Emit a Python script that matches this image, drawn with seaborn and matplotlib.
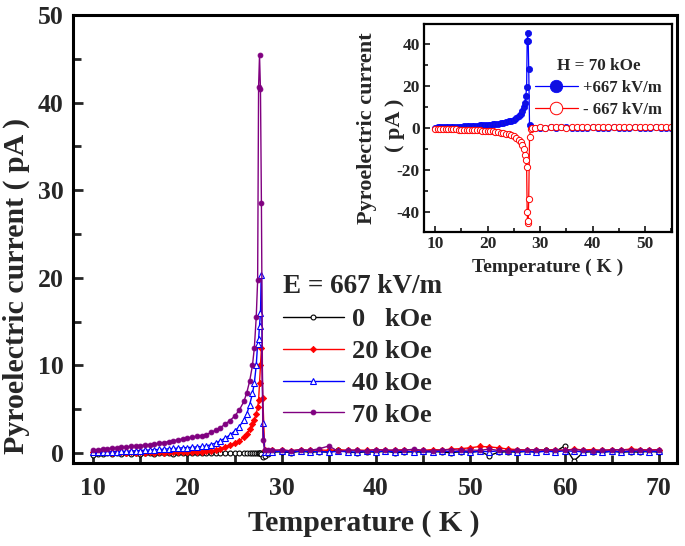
import numpy as np
import pandas as pd
import matplotlib
matplotlib.use("Agg")
import matplotlib.pyplot as plt
import seaborn as sns
from matplotlib.ticker import MultipleLocator

# ---------------- data ----------------
temperature = [10, 10.5, 11, 11.5, 12, 12.5, 13, 13.5, 14, 14.5, 15, 15.5, 16, 16.5,
               17, 17.5, 18, 18.5, 19, 19.5, 20, 20.5, 21, 21.5, 22, 22.5, 23, 23.5,
               24, 24.5, 25, 25.5, 26,
               26.3, 26.6, 26.9, 27.1, 27.3, 27.45, 27.55, 27.65, 27.75, 27.85, 28.0, 28.2, 28.5,
               29, 30, 31, 32, 33, 34, 35, 36, 37, 38, 39, 40, 41, 42, 43, 44, 45, 46,
               47, 48, 49, 50, 51, 52, 53, 54, 55, 56, 57, 58, 59, 60, 61, 62, 63, 64,
               65, 66, 67, 68, 69, 70]

i_0koe = [-0.2, -0.1, -0.15, 0.0, -0.1, -0.05, -0.15, 0.0, -0.1, -0.05, -0.1, 0.0, -0.05, -0.1,
          0.0, -0.05, 0.05, -0.1, 0.0, -0.05, 0.05, 0.0, -0.05, 0.05, 0.0, 0.05, -0.05, 0.05,
          0.0, 0.05, 0.0, 0.05, 0.0,
          0.05, 0.0, 0.05, 0.0, 0.05, 0.0, 0.05, 0.0, 0.05, -0.1, -0.5, -0.3, -0.1,
          0.1, 0.15, 0.05, 0.2, 0.1, 0.15, 0.1, 0.4, 0.1, 0.05, 0.15, 0.1, 0.2, 0.05,
          0.1, 0.15, 0.1, 0.2, 0.1, 0.05, 0.15, 0.1, 0.2, -0.3, 0.1, 0.15, 0.1, 0.2,
          0.1, 0.3, 0.15, 0.8, -0.9, 0.1, 0.15, 0.1, 0.2, 0.1, 0.15, 0.1, 0.2, 0.1]

i_20koe = [0.15, 0.1, 0.2, 0.1, 0.05, 0.1, 0.15, 0.05, 0.1, 0.05, 0.1, 0.05, 0.1, 0.05,
           0.1, 0.05, 0.1, 0.08, 0.1, 0.1, 0.12, 0.12, 0.15, 0.15, 0.18, 0.25, 0.35, 0.5,
           0.7, 0.9, 1.1, 1.4, 1.8,
           2.2, 2.7, 3.3, 3.8, 4.5, 5.2, 6.0, 8.0, 10.0, 12.0, 6.3, 0.3, 0.2,
           0.3, 0.35, 0.25, 0.4, 0.3, 0.35, 0.3, 0.4, 0.3, 0.35, 0.3, 0.4, 0.35, 0.3,
           0.4, 0.35, 0.3, 0.4, 0.35, 0.45, 0.5, 0.6, 0.75, 0.7, 0.6, 0.45, 0.4, 0.35,
           0.4, 0.35, 0.4, 0.3, 0.45, 0.35, 0.4, 0.3, 0.4, 0.35, 0.45, 0.4, 0.35, 0.4]

i_40koe = [0.10, 0.11, 0.12, 0.13, 0.15, 0.17, 0.19, 0.21, 0.23, 0.26, 0.29, 0.32, 0.35, 0.38,
           0.41, 0.44, 0.48, 0.52, 0.56, 0.60, 0.62, 0.66, 0.70, 0.75, 0.80, 0.95, 1.15, 1.40,
           1.70, 2.05, 2.50, 3.00, 3.80,
           4.5, 5.5, 6.8, 8.0, 10.0, 12.5, 13.0, 14.5, 16.0, 20.3, 3.4, 0.1, 0.1,
           0.15, 0.2, 0.1, 0.25, 0.15, 0.2, 0.1, 0.2, 0.15, 0.1, 0.2, 0.15, 0.25, 0.1,
           0.2, 0.15, 0.2, 0.1, 0.25, 0.15, 0.2, 0.1, 0.2, 0.15, 0.25, 0.2, 0.15, 0.2,
           0.1, 0.2, 0.15, 0.25, 0.2, 0.15, 0.2, 0.1, 0.2, 0.15, 0.2, 0.25, 0.15, 0.2]

i_70koe = [0.35, 0.40, 0.45, 0.50, 0.55, 0.60, 0.65, 0.70, 0.75, 0.80, 0.85, 0.90, 0.95, 1.00,
           1.10, 1.20, 1.30, 1.40, 1.50, 1.60, 1.70, 1.80, 1.90, 2.00, 2.10, 2.35, 2.60, 2.90,
           3.30, 3.70, 4.20, 4.90, 5.90,
           6.9, 8.2, 10.0, 12.0, 15.5, 19.7, 41.8, 45.4, 41.5, 28.5, 1.5, 0.4, 0.3,
           0.3, 0.35, 0.25, 0.4, 0.3, 0.5, 0.8, 0.2, 0.35, 0.3, 0.25, 0.4, 0.3, 0.35,
           0.3, 0.45, 0.3, 0.25, 0.35, 0.4, 0.3, 0.35, 0.3, 0.45, 0.3, 0.25, 0.35, 0.3,
           0.4, 0.3, 0.35, 0.3, 0.4, 0.3, 0.25, 0.35, 0.3, 0.4, 0.3, 0.35, 0.3, 0.35]

# inset: H = 70 kOe, +667 kV/m is the 70 kOe curve above; -667 kV/m below
i_neg667 = [-0.30, -0.32, -0.35, -0.38, -0.40, -0.43, -0.46, -0.50, -0.53, -0.57, -0.60, -0.65, -0.70, -0.75,
            -0.80, -0.86, -0.92, -0.98, -1.05, -1.12, -1.20, -1.30, -1.40, -1.55, -1.80, -2.00, -2.30, -2.55,
            -2.80, -3.20, -3.60, -4.40, -5.50,
            -6.5, -8.0, -10.0, -12.5, -15.2, -18.4, -40.0, -45.0, -44.0, -33.5, -4.3, -0.5, 0.0,
            0.3, 0.5, 0.3, 0.6, 0.4, 0.5, 0.3, 0.6, 0.5, 0.4, 0.6, 0.5, 0.4, 0.6,
            0.5, 0.7, 0.5, 0.6, 0.5, 0.6, 0.4, 0.6, 0.5, 0.6, 0.5, 0.6, 0.4, 0.6,
            0.5, 0.6, 0.5, 0.6, 0.5, 0.6, 0.5, 0.6, 0.5, 0.6, 0.5, 0.6, 0.5, 0.6]

main_labels = ["0   kOe", "20 kOe", "40 kOe", "70 kOe"]
inset_labels = ["+667 kV/m", "- 667 kV/m"]
main_title = "E = 667 kV/m"
inset_title = "H = 70 kOe"

# ---------------- style ----------------
sns.set_theme(style="ticks")
plt.rcParams["font.family"] = ["Liberation Serif", "DejaVu Serif"]
plt.rcParams["font.weight"] = "bold"
plt.rcParams["axes.labelweight"] = "bold"
plt.rcParams["axes.unicode_minus"] = False

fig = plt.figure(figsize=(6.85, 5.46), dpi=100)
fig.patch.set_facecolor("white")

ax = fig.add_axes([0.107, 0.1526, 0.881, 0.82])

main_df = pd.DataFrame({
    "T": temperature * 4,
    "I": i_0koe + i_20koe + i_40koe + i_70koe,
    "field": sum([[lab] * len(temperature) for lab in main_labels], []),
})

styles = {
    "0   kOe": dict(color="black", marker="o", mfc="white", mec="black", ms=3.5, mew=0.8),
    "20 kOe": dict(color="#ff0000", marker="D", mfc="#ff0000", mec="#ff0000", ms=3.2, mew=0.6),
    "40 kOe": dict(color="#0000ff", marker="^", mfc="white", mec="#0000ff", ms=4.0, mew=0.8),
    "70 kOe": dict(color="#800080", marker="o", mfc="#800080", mec="#800080", ms=3.5, mew=0.6),
}

for lab in main_labels:
    sub = main_df[main_df["field"] == lab]
    st = styles[lab]
    sns.lineplot(data=sub, x="T", y="I", ax=ax, sort=False, estimator=None,
                 color=st["color"], marker=st["marker"], markersize=st["ms"],
                 markerfacecolor=st["mfc"], markeredgecolor=st["mec"],
                 markeredgewidth=st["mew"], linewidth=1.0, label=lab)

ax.set_xlim(7.9, 71.9)
ax.set_ylim(-1.1, 50)
ax.xaxis.set_major_locator(MultipleLocator(10))
ax.xaxis.set_minor_locator(MultipleLocator(5))
ax.yaxis.set_major_locator(MultipleLocator(10))
ax.yaxis.set_minor_locator(MultipleLocator(5))
ax.tick_params(axis="both", which="both", direction="in", width=2, top=False, right=False)
ax.tick_params(axis="both", which="major", length=7, labelsize=18.5)
ax.tick_params(axis="x", which="major", pad=10)
ax.tick_params(axis="y", which="major", pad=7)
ax.tick_params(axis="both", which="minor", length=6)
for lab in ax.get_xticklabels() + ax.get_yticklabels():
    lab.set_fontweight("bold")
for sp in ax.spines.values():
    sp.set_linewidth(2.2)
    sp.set_color("black")
ax.set_xlabel("Temperature ( K )", fontsize=21.5, fontweight="bold")
ax.set_ylabel("Pyroelectric current ( pA )", fontsize=21.5, fontweight="bold")
ax.xaxis.set_label_coords(0.482, -0.105)
ax.yaxis.set_label_coords(-0.072, 0.395)

leg = ax.legend(loc="upper left", bbox_to_anchor=(0.33, 0.445), frameon=False,
                title=main_title, fontsize=19, title_fontsize=19.5,
                handlelength=2.3, handletextpad=0.3, labelspacing=0.32, borderaxespad=0)
leg._legend_box.align = "left"
leg.get_title().set_fontweight("bold")
for t in leg.get_texts():
    t.set_fontweight("bold")

# ---------------- inset ----------------
axi = fig.add_axes([0.619, 0.5745, 0.3617, 0.381])
inset_df = pd.DataFrame({
    "T": temperature * 2,
    "I": i_70koe + i_neg667,
    "pol": [inset_labels[0]] * len(temperature) + [inset_labels[1]] * len(temperature),
})
sub = inset_df[inset_df["pol"] == inset_labels[0]]
sns.lineplot(data=sub, x="T", y="I", ax=axi, sort=False, estimator=None,
             color="#0000ff", marker="o", markersize=4.5, markerfacecolor="#1010e0",
             markeredgecolor="#0000ff", markeredgewidth=0.5, linewidth=0.9,
             label=inset_labels[0])
sub = inset_df[inset_df["pol"] == inset_labels[1]]
sns.lineplot(data=sub, x="T", y="I", ax=axi, sort=False, estimator=None,
             color="#ff0000", marker="o", markersize=4.5, markerfacecolor="white",
             markeredgecolor="#ff0000", markeredgewidth=0.7, linewidth=0.9,
             label=inset_labels[1])

axi.set_xlim(7.9, 55.1)
axi.set_ylim(-49.6, 49.6)
axi.xaxis.set_major_locator(MultipleLocator(10))
axi.xaxis.set_minor_locator(MultipleLocator(5))
axi.yaxis.set_major_locator(MultipleLocator(20))
axi.yaxis.set_minor_locator(MultipleLocator(10))
axi.tick_params(axis="both", which="both", direction="in", width=1.3, top=False, right=False)
axi.tick_params(axis="both", which="major", length=4, labelsize=12.5, pad=3)
axi.tick_params(axis="both", which="minor", length=3)
for lab in axi.get_xticklabels() + axi.get_yticklabels():
    lab.set_fontweight("bold")
for sp in axi.spines.values():
    sp.set_linewidth(1.6)
    sp.set_color("black")
axi.set_xlabel("Temperature ( K )", fontsize=14, fontweight="bold")
axi.set_ylabel("Pyroelectric current", fontsize=16, fontweight="bold")
axi.xaxis.set_label_coords(0.5, -0.125)
axi.yaxis.set_label_coords(-0.19, 0.5)
axi.text(-0.117, 0.516, "( pA )", transform=axi.transAxes, rotation=90,
         ha="center", va="center", fontsize=16, fontweight="bold")

legi = axi.legend(loc="upper left", bbox_to_anchor=(0.42, 0.87), frameon=False,
                  title=inset_title, fontsize=12, title_fontsize=12.3,
                  handlelength=2.6, handletextpad=0.3, labelspacing=0.35, borderaxespad=0,
                  markerscale=2.0)
legi.get_title().set_fontweight("bold")
for t in legi.get_texts():
    t.set_fontweight("bold")

fig.savefig("out.png", dpi=100, facecolor="white")
